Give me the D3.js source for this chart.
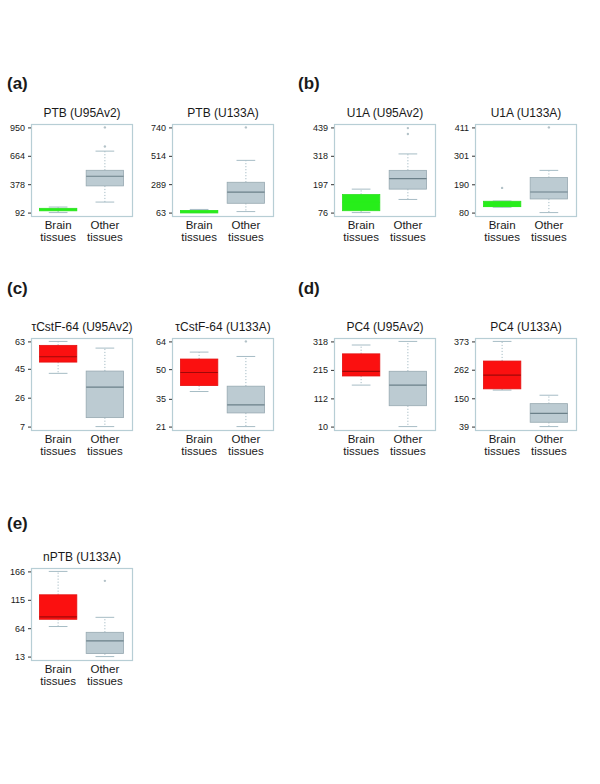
<!DOCTYPE html>
<html>
<head>
<meta charset="utf-8">
<script src="https://cdn.jsdelivr.net/npm/d3@7"></script>
<style>
  html, body { margin: 0; padding: 0; background: #fff; }
  svg { display: block; font-family: "Liberation Sans", Arial, Helvetica, sans-serif; }
</style>
</head>
<body>
<svg id="chart" width="600" height="784"></svg>
<script>
// ---- data ----
const panelLabels = ["(a)", "(b)", "(c)", "(d)", "(e)"];
const titles = ["PTB (U95Av2)", "PTB (U133A)", "U1A (U95Av2)", "U1A (U133A)",
                "τCstF-64 (U95Av2)", "τCstF-64 (U133A)", "PC4 (U95Av2)", "PC4 (U133A)",
                "nPTB (U133A)"];
const categories = ["Brain tissues", "Other tissues"];
const yTicks = [
  [92, 378, 664, 950], [63, 289, 514, 740], [76, 197, 318, 439], [80, 190, 301, 411],
  [7, 26, 45, 63], [21, 35, 50, 64], [10, 112, 215, 318], [39, 150, 262, 373],
  [13, 64, 115, 166]
];
// [lower whisker, Q1, median, Q3, upper whisker]
const brainStats = [
  [92, 110, 122, 135, 148], [63, 67, 72, 80, 88], [76, 84, 120, 153, 176], [101, 103, 105, 124, 125],
  [42, 49.4, 52.9, 60.4, 63], [38.7, 41.7, 48.3, 55.1, 58.6], [160, 193, 210, 273, 305], [182, 187, 241, 296, 373],
  [67, 80, 84.5, 124, 166]
];
const otherStats = [
  [198, 361, 458, 518, 711], [71, 137, 226, 304, 478], [132, 176, 221, 256, 326], [80, 133, 160, 216, 244],
  [7, 12.9, 32.9, 43.5, 58.6], [21, 27.9, 32, 41.4, 56.4], [10, 85.5, 160, 210, 318], [39, 56, 90.5, 129, 162],
  [13, 18.4, 41.1, 56.6, 83.5]
];
const brainOutliers = [[], [], [], [176], [], [], [], [], []];
const otherOutliers = [[757, 950], [740], [411, 436], [411], [], [64], [], [], [149]];
const brainColorKind = ["green", "green", "green", "green", "red", "red", "red", "red", "red"];

// ---- layout ----
const svg = d3.select("#chart");
const colX = [31, 172, 334, 475];
const rowTop = [124, 338, 568];
const labelY = [89, 294, 529];
const labelX = [7, 298];
const W = 101, H = 92;

const palette = {
  green: { fill: "#27ee1a", stroke: "#2ee022", median: "#27ee1a" },
  red: { fill: "#fb1010", stroke: "#e41010", median: "#a00808" },
  grey: { fill: "#bccbd2", stroke: "#97a9b1", median: "#6b8089" }
};
const frameColor = "#b7ced5";
const whiskerColor = "#a6bcc5";
const textColor = "#1a1a1a";

// panel labels
panelLabels.forEach((lab, k) => {
  const row = Math.floor(k / 2), side = k % 2;
  svg.append("text")
    .attr("x", labelX[side]).attr("y", labelY[row])
    .attr("font-size", 17).attr("font-weight", "bold").attr("fill", textColor)
    .text(lab);
});

titles.forEach((title, i) => {
  const row = i < 4 ? 0 : (i < 8 ? 1 : 2);
  const col = row === 2 ? 0 : i % 4;
  const left = colX[col], top = rowTop[row];
  const ticks = yTicks[i];
  const lo = ticks[0], hi = ticks[ticks.length - 1], r = hi - lo;
  const y = d3.scaleLinear().domain([lo - 0.04 * r, hi + 0.04 * r]).range([top + H, top]);
  const x = d3.scaleLinear().domain([0.42, 2.58]).range([left, left + W]);
  const g = svg.append("g");

  // frame
  g.append("rect").attr("x", left + 0.5).attr("y", top + 0.5)
    .attr("width", W).attr("height", H)
    .attr("fill", "none").attr("stroke", frameColor).attr("stroke-width", 1.2);

  // title
  g.append("text").attr("x", left + W / 2 + 0.5).attr("y", top - 7)
    .attr("text-anchor", "middle").attr("font-size", 12).attr("fill", textColor)
    .text(title);

  // y axis
  const ax = g.append("g").attr("transform", `translate(${left},0)`)
    .call(d3.axisLeft(y).tickValues(ticks).tickSize(3).tickPadding(3).tickFormat(d3.format("d")));
  ax.select(".domain").remove();
  ax.selectAll(".tick line").attr("stroke", "#333");
  ax.selectAll(".tick text").attr("font-size", 9).attr("fill", textColor)
    .attr("font-family", "\"Liberation Sans\", Arial, sans-serif");

  // category labels (two lines each)
  categories.forEach((c, j) => {
    c.split(" ").forEach((w, k) => {
      g.append("text").attr("text-anchor", "middle").attr("font-size", 11.5).attr("fill", textColor)
        .attr("x", x(j + 1)).attr("y", top + H + 13 + k * 12).text(w);
    });
  });

  // boxes
  const groups = [
    { pos: 1, s: brainStats[i], out: brainOutliers[i], pal: palette[brainColorKind[i]] },
    { pos: 2, s: otherStats[i], out: otherOutliers[i], pal: palette.grey }
  ];
  const bw = x(1.4) - x(0.6);
  groups.forEach(gr => {
    const cx = x(gr.pos);
    const [wl, q1, med, q3, wh] = gr.s;
    // whiskers (dotted)
    g.append("line").attr("x1", cx).attr("x2", cx).attr("y1", y(q3)).attr("y2", y(wh))
      .attr("stroke", whiskerColor).attr("stroke-dasharray", "1.2,1.8");
    g.append("line").attr("x1", cx).attr("x2", cx).attr("y1", y(q1)).attr("y2", y(wl))
      .attr("stroke", whiskerColor).attr("stroke-dasharray", "1.2,1.8");
    // staples
    [wl, wh].forEach(v => {
      g.append("line").attr("x1", cx - bw / 4).attr("x2", cx + bw / 4)
        .attr("y1", y(v)).attr("y2", y(v)).attr("stroke", whiskerColor).attr("stroke-width", 1);
    });
    // box
    g.append("rect").attr("x", cx - bw / 2).attr("y", y(q3))
      .attr("width", bw).attr("height", Math.max(2.5, y(q1) - y(q3)))
      .attr("fill", gr.pal.fill).attr("stroke", gr.pal.stroke).attr("stroke-width", 0.8);
    g.append("line").attr("x1", cx - bw / 2).attr("x2", cx + bw / 2)
      .attr("y1", y(med)).attr("y2", y(med)).attr("stroke", gr.pal.median).attr("stroke-width", 1.2);
    // outliers
    gr.out.forEach(v => {
      g.append("circle").attr("cx", cx).attr("cy", y(v)).attr("r", 1.2)
        .attr("fill", "#b3c2c8").attr("stroke", "none");
    });
  });
});
</script>
</body>
</html>
